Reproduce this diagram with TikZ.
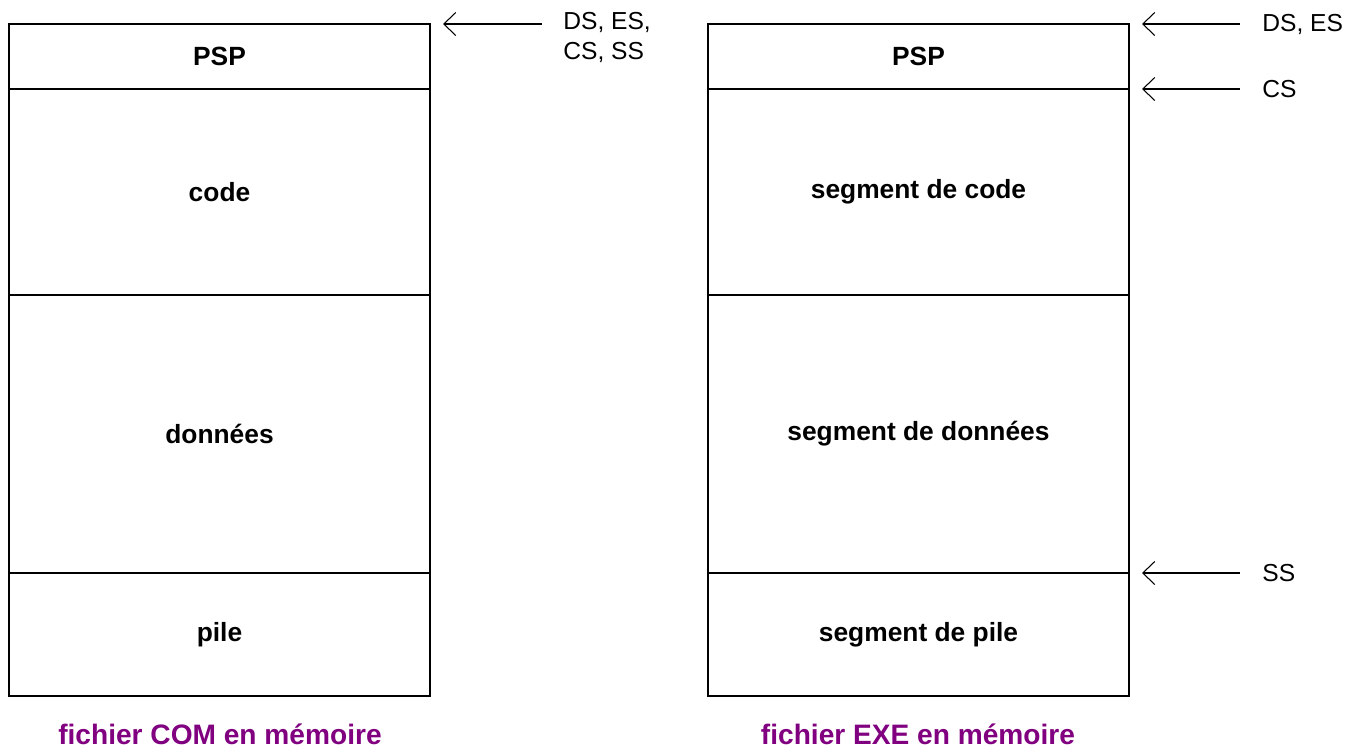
\documentclass[tikz,border=0pt]{standalone}
\usepackage{fontspec}
\setmainfont{Liberation Sans}
\usepackage{tikz}
\usetikzlibrary{arrows.meta, positioning}
\definecolor{captionpurple}{HTML}{800080}

\begin{document}
\begin{tikzpicture}[
    x=0.02cm, y=-0.02cm,
    cell/.style={rectangle, draw, line width=0.8pt, minimum width=8.42cm, inner sep=0pt, font=\bfseries\fontsize{15}{18}\selectfont},
    reg/.style={anchor=west, align=left, inner sep=0pt, font=\fontsize{14}{17}\selectfont},
    caption/.style={text=captionpurple, font=\bfseries\fontsize{16}{19}\selectfont},
    arrow/.style={-{Straight Barb[length=2.4mm, width=4.6mm]}, line width=0.6pt}
]
    \useasboundingbox (0,0) rectangle (1367,752);

    % Fichier COM
    \node[cell, minimum height=1.30cm] (compsp) at (219.5,56.5) {PSP};
    \node[cell, minimum height=4.12cm] (comcode) at (219.5,192) {code};
    \node[cell, minimum height=5.56cm] (comdata) at (219.5,434) {données};
    \node[cell, minimum height=2.46cm] (compile) at (219.5,634.5) {pile};
    \node[caption] (comcap) at (220,734) {fichier COM en mémoire};

    % Fichier EXE
    \node[cell, minimum height=1.30cm] (exepsp) at (918.5,56.5) {PSP};
    \node[cell, minimum height=4.12cm] (execode) at (918.5,192) {segment de code};
    \node[cell, minimum height=5.56cm] (exedata) at (918.5,434) {segment de données};
    \node[cell, minimum height=2.46cm] (exepile) at (918.5,634.5) {segment de pile};
    \node[caption] (execap) at (918,734) {fichier EXE en mémoire};

    % Registres
    \node[reg, anchor=north west] (comregs) at (563,12) {DS, ES,\\CS, SS};
    \node[reg] (exeds) at (1262,24) {DS, ES};
    \node[reg] (execs) at (1262,89) {CS};
    \node[reg] (exess) at (1262,573) {SS};

    \coordinate (comtip) at (443,24);
    \coordinate (exedstip) at (1142,24);
    \coordinate (execstip) at (1142,89);
    \coordinate (exesstip) at (1142,573);

    % Fleches
    \draw[arrow] (comregs.north west |- comtip) ++(-21,0) -- (comtip);
    \draw[arrow] ([xshift=-0.44cm]exeds.west) -- (exedstip);
    \draw[arrow] ([xshift=-0.44cm]execs.west) -- (execstip);
    \draw[arrow] ([xshift=-0.44cm]exess.west) -- (exesstip);
\end{tikzpicture}
\end{document}
